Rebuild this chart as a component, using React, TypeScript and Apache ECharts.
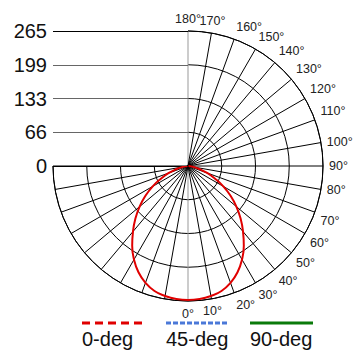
import React, { useEffect, useRef } from "react";
import * as echarts from "echarts";

// photometric angles (deg), 0 = down, 90 = right
const angles = [0, 5, 10, 15, 20, 25, 30, 35, 40, 45, 50, 55, 60, 65, 70, 75, 80, 85, 90];
// intensity for 0-deg plane (same on both sides)
const values0 = [263, 262, 259, 254, 244, 230, 212, 191, 168, 146, 124, 102, 80, 58, 40, 23, 11, 4, 1];
const legendNames = ["0-deg", "45-deg", "90-deg"];
const legendColors = ["#e00000", "#4a78d8", "#0a7a0a"];

export default function App() {
  const ref = useRef<HTMLDivElement>(null);
  useEffect(() => {
    const chart = echarts.init(ref.current!, null, { renderer: "svg" });
    const maxR = 265;
    // axis value v = 180 - theta
    const data: [number, number][] = [];
    for (let i = angles.length - 1; i >= 0; i--) data.push([values0[i], 180 - angles[i]]);
    for (let i = 1; i < angles.length; i++) data.push([values0[i], 180 + angles[i]]);
    const splitColors = ["#999"].concat(new Array(17).fill("#000"));
    const cx = 188, cy = 166, R = 135;
    const legendGraphics: any[] = [];
    const lx = [82, 166, 250];
    legendNames.forEach((n, i) => {
      legendGraphics.push({
        type: "line",
        shape: { x1: lx[i], y1: 323, x2: lx[i] + 63, y2: 323 },
        style: { stroke: legendColors[i], lineWidth: 3, lineDash: i === 2 ? null : i === 0 ? [8, 5] : [5, 2] },
      });
      legendGraphics.push({
        type: "text",
        x: lx[i],
        y: 339,
        style: { text: n, fill: "#111", font: "20px Liberation Sans, Arial, sans-serif", textVerticalAlign: "middle" },
      });
    });
    chart.setOption({
      animation: false,
      textStyle: { fontFamily: "Liberation Sans, Arial, sans-serif" },
      polar: { center: [cx, cy], radius: R },
      angleAxis: {
        type: "value",
        min: 0,
        max: 270,
        interval: 10,
        startAngle: 90,
        endAngle: -180,
        clockwise: true,
        axisLine: { show: true, lineStyle: { color: "#000", width: 1 } },
        axisTick: { show: false },
        splitLine: { show: true, lineStyle: { color: splitColors, width: 1 } },
        axisLabel: {
          margin: 6,
          fontSize: 12.5,
          color: "#222",
          formatter: (v: number) => (v <= 180 ? 180 - v + "°" : ""),
        },
      },
      radiusAxis: {
        type: "value",
        min: 0,
        max: maxR,
        interval: maxR / 4,
        axisLine: { show: false },
        axisTick: { show: false },
        axisLabel: { show: false },
        splitLine: { show: true, lineStyle: { color: "#000", width: 1 } },
      },
      grid: { left: cx - R, top: cy - R, width: R, height: R },
      xAxis: { type: "value", show: false, min: 0, max: 1 },
      yAxis: {
        type: "value",
        min: 0,
        max: maxR,
        interval: maxR / 4,
        axisLine: { show: false },
        axisTick: { show: false },
        axisLabel: {
          fontSize: 20,
          color: "#111",
          margin: 6,
          formatter: (v: number) => String(Math.round(v)),
        },
        splitLine: { show: true, lineStyle: { color: ["#000", "#666", "#666", "#666", "#000"], width: 1 } },
      },
      series: [
        {
          name: "0-deg",
          type: "line",
          coordinateSystem: "polar",
          data,
          smooth: true,
          showSymbol: false,
          lineStyle: { color: "#e00000", width: 2 },
          z: 5,
        },
      ],
      graphic: legendGraphics,
    });
    return () => chart.dispose();
  }, []);
  return <div ref={ref} style={{ position: "absolute", left: 0, top: 0, width: 363, height: 354 }} />;
}
